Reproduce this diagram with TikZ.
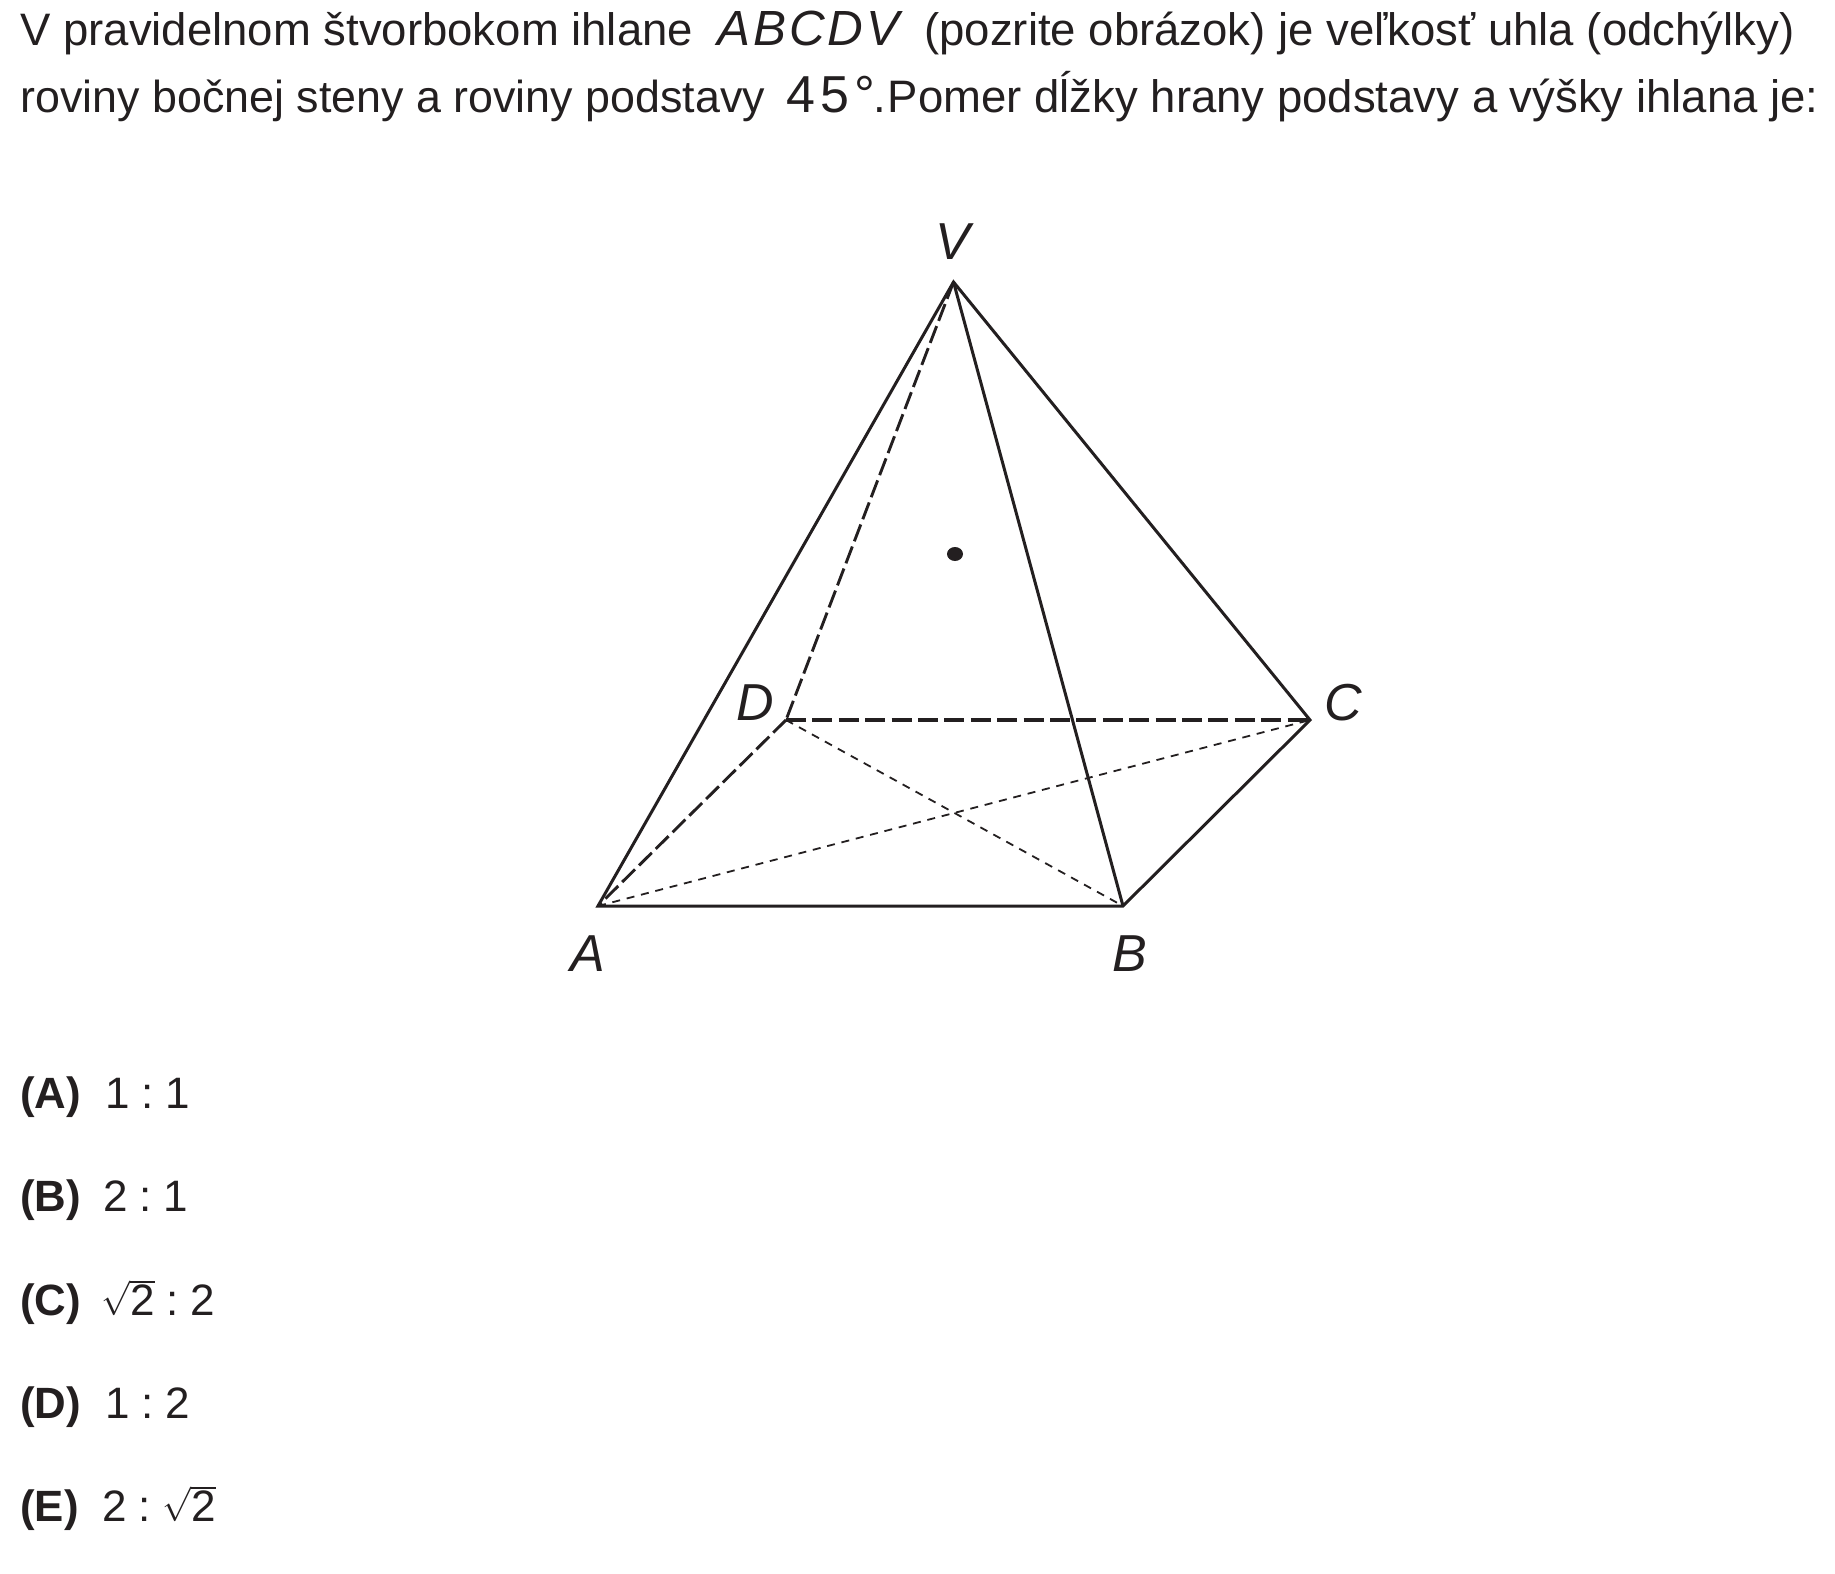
\documentclass[tikz,border=0pt]{standalone}
\usepackage{fontspec}
\setmainfont{Liberation Sans}
\usepackage{xcolor}
\usetikzlibrary{shapes.geometric}
\definecolor{ink}{HTML}{231F20}
\newfontfamily\spacedit[LetterSpace=6]{Liberation Sans}
\newfontfamily\spacednum[LetterSpace=10]{Liberation Sans}
\newcommand{\rsp}{\hspace{5.9pt}}
\newcommand{\roottwo}{{\fontsize{19}{22}\selectfont$\sqrt{\hbox{\fontsize{22}{26}\selectfont 2}}$}}
\begin{document}
\begin{tikzpicture}
    [x=.5pt,y=-.5pt,
    tx/.style={
      anchor=base west,
      inner sep=0pt,
      text=ink,
      font=\fontsize{22.75}{27}\selectfont
      },
    opt/.style={tx,font=\fontsize{21.9}{26}\selectfont\bfseries},
    val/.style={tx,font=\fontsize{22}{26}\selectfont},
    lab/.style={inner sep=0pt,text=ink,font=\fontsize{26}{30}\selectfont\itshape},
    solidedge/.style={draw=ink,line width=1.5pt},
    midedge/.style={draw=ink,line width=1.45pt,dash pattern=on 9pt off 2.8pt},
    backedge/.style={draw=ink,line width=1.6pt,dash pattern=on 10pt off 3.2pt},
    diag/.style={draw=ink,line width=.9pt,dash pattern=on 4pt off 3.4pt}]

    \useasboundingbox (0,0) rectangle (1835,1573);

    % question text
    \node (l1a)[tx] at (20,46) {V pravidelnom štvorbokom ihlane};
    \node (l1b)[tx,font=\fontsize{24.7}{29}\selectfont\spacedit\itshape] at (717,46) {ABCDV};
    \node (l1c)[tx] at (924,46) {(pozrite obrázok) je veľkosť uhla (odchýlky)};
    \node (l2a)[tx,font=\fontsize{22.4}{27}\selectfont] at (20,113) {roviny bočnej steny a roviny podstavy};
    \node (l2b)[tx,font=\fontsize{26}{30}\selectfont\spacednum] at (786,113) {45°};
    \node (l2c)[tx] at (873,113) {.\hspace{-7.5pt} Pomer dĺžky hrany podstavy a výšky ihlana je:};

    % vertices
    \coordinate (A) at (598,906); \coordinate (B) at (1123,906); \coordinate (C) at (1310,720);
    \coordinate (D) at (786,720); \coordinate (V) at (953.5,282);
    \node (dot)[ellipse,fill=ink,minimum width=8pt,minimum height=7pt,inner sep=0pt] at (955,554) {};

    \node (labA)[lab] at (588,954) {A}; \node (labB)[lab] at (1130,954) {B};
    \node (labC)[lab] at (1343,703) {C}; \node (labD)[lab] at (755,703) {D};
    \node (labV)[lab] at (953,242) {V};

    \draw[diag] (A) -- (C);
    \draw[diag] (D) -- (B);
    \draw[midedge] (V) -- (D);
    \draw[midedge] (D) -- (A);
    \draw[backedge] (D) -- (C);
    \draw[solidedge] (A) -- (B) -- (C) -- (V) -- cycle;
    \draw[solidedge] (V) -- (B);

    % answers
    \node (a1)[opt] at (20,1108) {(A)}; \node (a2)[val] at (105,1108) {1\rsp:\rsp1};
    \node (b1)[opt] at (20,1211) {(B)}; \node (b2)[val] at (103,1211) {2\rsp:\rsp1};
    \node (c1)[opt] at (20,1315) {(C)}; \node (c2)[val] at (101,1315) {\roottwo\rsp:\rsp2};
    \node (d1)[opt] at (20,1418) {(D)}; \node (d2)[val] at (105,1418) {1\rsp:\rsp2};
    \node (e1)[opt] at (20,1521) {(E)}; \node (e2)[val] at (102,1521) {2\rsp:\rsp\roottwo};

  \end{tikzpicture}
\end{document}
